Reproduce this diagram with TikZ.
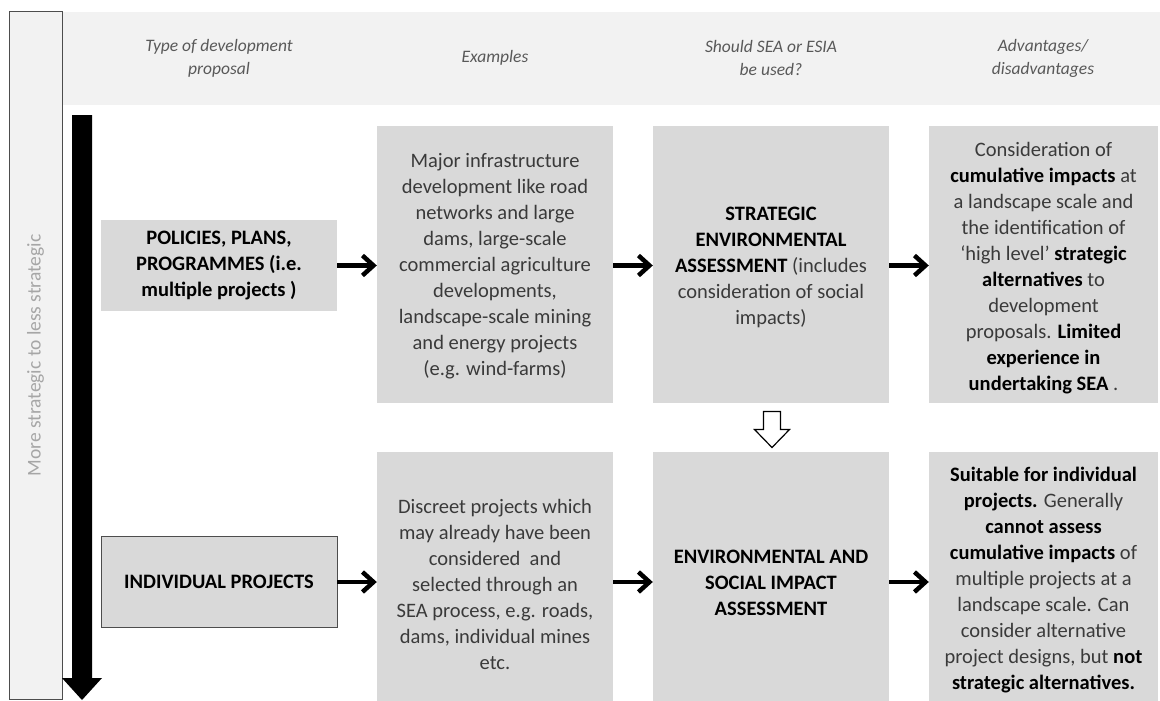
\documentclass[tikz,border=0pt]{standalone}
\usepackage{fontspec}
\setmainfont{Carlito}
\usetikzlibrary{arrows.meta,calc}
\definecolor{boxgray}{HTML}{D9D9D9}
\definecolor{bandgray}{HTML}{F2F2F2}
\definecolor{headtxt}{HTML}{595959}
\definecolor{sidetxt}{HTML}{A6A6A6}
\definecolor{bodytxt}{HTML}{3A3A3A}
\definecolor{edgegray}{HTML}{4D4D4D}
\tikzset{
  cell/.style={fill=boxgray, inner sep=0pt},
  celltxt/.style={inner sep=0pt, align=center, text=bodytxt,
    font=\fontsize{20.5}{26}\selectfont},
  headlbl/.style={align=center, text=headtxt, font=\fontsize{17.5}{23}\selectfont\itshape},
  conn/.style={line width=4.5pt, -{Straight Barb[length=11pt,width=20pt,line width=4.5pt]}},
}
\begin{document}
\begin{tikzpicture}[x=1pt,y=-1pt]
\useasboundingbox (0,0) rectangle (1160,701);
% header band
\node[fill=bandgray, minimum width=1098pt, minimum height=93pt, inner sep=0pt] (band) at (611,58.5) {};
% left side box
\node[draw=edgegray, line width=1pt, fill=bandgray, minimum width=53pt, minimum height=687pt, inner sep=0pt] (side) at (35.5,355.5) {};
\node[rotate=90, text=sidetxt, font=\fontsize{19.5}{23}\selectfont] (sidelbl) at (side.center) {More strategic to less strategic};
% header labels
\node[headlbl] (h1) at (219,58) {Type of development\\proposal};
\node[headlbl] (h2) at (495,58) {Examples};
\node[headlbl] (h3) at (771,58) {Should SEA or ESIA\\be used?};
\node[headlbl] (h4) at (1043,58) {Advantages/\\disadvantages};
% big black arrow
\fill[black] (72,115) -- (92,115) -- (92,678) -- (102,678) -- (82,700) -- (62,678) -- (72,678) -- cycle;
% row 1 boxes
\node[cell, minimum width=236pt, minimum height=91pt] (ppp) at (219,265.5) {};
\node[celltxt, text=black] (ppptxt) at (ppp.center)
  {\textbf{POLICIES, PLANS,}\\\textbf{PROGRAMMES (i.e.}\\\textbf{multiple projects )}};
\node[cell, minimum width=236pt, minimum height=277pt] (ex1) at (495,264.5) {};
\node[celltxt] (ex1txt) at ($(ex1.center)+(0,2)$)
  {Major infrastructure\\development like road\\networks and large\\dams, large-scale\\commercial agriculture\\developments,\\landscape-scale mining\\and energy projects\\(e.g. wind-farms)};
\node[cell, minimum width=236pt, minimum height=277pt] (sea) at (771,264.5) {};
\node[celltxt] (seatxt) at ($(sea.center)+(0,3)$)
  {\textbf{\color{black}STRATEGIC}\\\textbf{\color{black}ENVIRONMENTAL}\\\textbf{\color{black}ASSESSMENT} (includes\\consideration of social\\impacts)};
\node[cell, minimum width=229pt, minimum height=277pt] (adv1) at (1043.5,264.5) {};
\node[celltxt] (adv1txt) at ($(adv1.center)+(0,4)$)
  {Consideration of\\\textbf{\color{black}cumulative impacts} at\\a landscape scale and\\the identification of\\‘high level’ \textbf{\color{black}strategic}\\\textbf{\color{black}alternatives} to\\development\\proposals. \textbf{\color{black}Limited}\\\textbf{\color{black}experience in}\\\textbf{\color{black}undertaking SEA} .};
% row 2 boxes
\node[cell, draw=edgegray, line width=0.8pt, minimum width=236pt, minimum height=91pt] (ind) at (219,582) {};
\node[celltxt, text=black] (indtxt) at (ind.center) {\textbf{INDIVIDUAL PROJECTS}};
\node[cell, minimum width=236pt, minimum height=249pt] (ex2) at (495,576.5) {};
\node[celltxt] (ex2txt) at ($(ex2.center)+(0,8)$)
  {Discreet projects which\\may already have been\\considered\ \ and\\selected through an\\SEA process, e.g. roads,\\dams, individual mines\\etc.};
\node[cell, minimum width=236pt, minimum height=249pt] (esia) at (771,576.5) {};
\node[celltxt, text=black] (esiatxt) at ($(esia.center)+(0,6)$)
  {\textbf{ENVIRONMENTAL AND}\\\textbf{SOCIAL IMPACT}\\\textbf{ASSESSMENT}};
\node[cell, minimum width=229pt, minimum height=249pt] (adv2) at (1043.5,576.5) {};
\node[celltxt] (adv2txt) at ($(adv2.center)+(0,4)$)
  {\textbf{\color{black}Suitable for individual}\\\textbf{\color{black}projects.} Generally\\\textbf{\color{black}cannot assess}\\\textbf{\color{black}cumulative impacts} of\\multiple projects at a\\landscape scale. Can\\consider alternative\\project designs, but \textbf{\color{black}not}\\\textbf{\color{black}strategic alternatives.}};
% connectors row 1
\draw[conn] (ppp.east) -- (ppp.east -| ex1.west);
\draw[conn] (ex1.east |- ppp.east) -- (sea.west |- ppp.east);
\draw[conn] (sea.east |- ppp.east) -- (adv1.west |- ppp.east);
% connectors row 2
\draw[conn] (ind.east) -- (ind.east -| ex2.west);
\draw[conn] (ex2.east |- ind.east) -- (esia.west |- ind.east);
\draw[conn] (esia.east |- ind.east) -- (adv2.west |- ind.east);
% hollow arrow between SEA and ESIA
\coordinate (hm) at ($(sea.south)!0.5!(esia.north)$);
\draw[line width=1.2pt, fill=white, line join=miter]
  ($(hm)+(-7.5,-16)$) -- ($(hm)+(9.5,-16)$) -- ($(hm)+(9.5,2)$) -- ($(hm)+(18.5,2)$)
  -- ($(hm)+(1,20)$) -- ($(hm)+(-16.5,2)$) -- ($(hm)+(-7.5,2)$) -- cycle;
\end{tikzpicture}
\end{document}
